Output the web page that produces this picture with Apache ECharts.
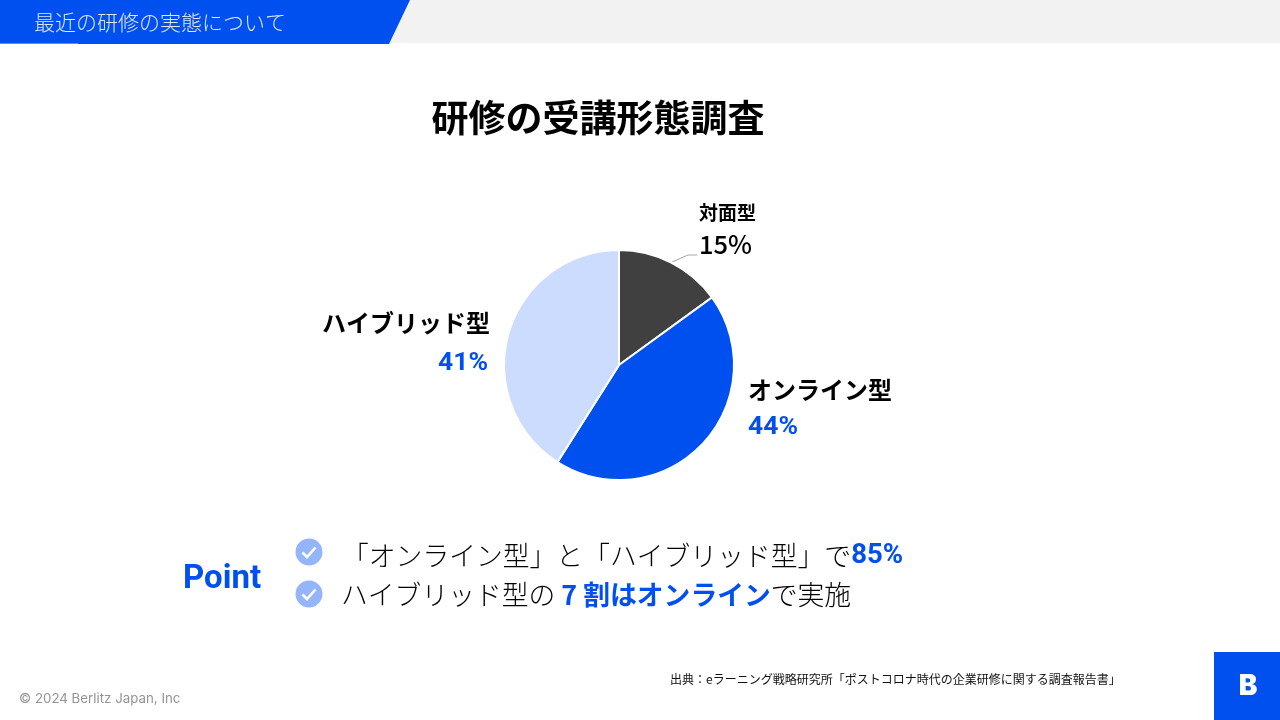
<!DOCTYPE html>
<html><head><meta charset="utf-8">
<style>html,body{margin:0;padding:0;background:#fff}#c{width:1280px;height:720px}</style>
<script src="https://cdn.jsdelivr.net/npm/echarts@6/dist/echarts.min.js"></script>
</head><body><div id="c"></div>
<script>
const categories = ['対面型','オンライン型','ハイブリッド型'];
const values = [15,44,41];
const sliceColors = ['#404040','#0050f0','#ccdcff'];
const headerText = '最近の研修の実態について';
const titleText = '研修の受講形態調査';
const sourceText = '出典：eラーニング戦略研究所「ポストコロナ時代の企業研修に関する調査報告書」';
const copyrightText = '© 2024 Berlitz Japan, Inc';

const JP = '"Noto Sans CJK JP","Noto Sans",sans-serif';
const BLUE = '#0050f0';
const labelPos = [
  {x:699,y:198,align:'left'},
  {x:748,y:372,align:'left'},
  {x:490,y:305,align:'right'}
];
const labelFormats = ['{n0|{b}}\n{p0|{c}%}','{n|{b}}\n{p|{c}%}','{n|{b}}\n{p2|{c}%}'];
function check(cx,cy){
  return [
    {type:'circle',shape:{cx:cx,cy:cy,r:13.5},style:{fill:'#94b5fa'}},
    {type:'polyline',shape:{points:[[cx-6.5,cy+0.5],[cx-2,cy+5],[cx+6.5,cy-4.5]]},style:{stroke:'#fff',lineWidth:2.6,fill:null}}
  ];
}
const pctFont = {fontFamily:'Roboto,Inter,sans-serif',fontSize:26.5,fontWeight:700,color:BLUE};
const chart = echarts.init(document.getElementById('c'),null,{renderer:'canvas'});
chart.setOption({
  animation:false,
  backgroundColor:'#fff',
  title:{text:titleText,left:593,top:94,textAlign:'center',
    textStyle:{fontFamily:JP,fontSize:37,fontWeight:700,color:'#000'}},
  series:[{
    type:'pie',center:[619,365],radius:[0,115],startAngle:90,clockwise:true,
    data:categories.map((n,i)=>({name:n,value:values[i],
      itemStyle:{color:sliceColors[i]},
      labelLine:{show:i===0},
      label:{formatter:labelFormats[i], align:labelPos[i].align}
    })),
    itemStyle:{borderColor:'#fff',borderWidth:2},
    label:{show:true,position:'outside',
      rich:{
        n0:{fontFamily:JP,fontSize:19,fontWeight:700,color:'#000',lineHeight:30},
        p0:{fontFamily:JP,fontSize:25.5,fontWeight:500,color:'#000',lineHeight:32},
        n:{fontFamily:JP,fontSize:24,fontWeight:700,color:'#000',lineHeight:36},
        p:Object.assign({lineHeight:38},pctFont),
        p2:Object.assign({lineHeight:44,padding:[0,2,0,0]},pctFont)
      }},
    labelLine:{lineStyle:{color:'#a6a6a6',width:1}},
    labelLayout:function(p){const l=labelPos[p.dataIndex];return {x:l.x,y:l.y,align:l.align,verticalAlign:'top',
      labelLinePoints: p.dataIndex===0 ? [[672,262],[688,255],[697,255]] : undefined};}
  }],
  graphic:[
    {type:'rect',shape:{x:0,y:0,width:1280,height:43},style:{fill:'#f2f2f2'},silent:true},
    {type:'polygon',shape:{points:[[0,0],[410,0],[389,44],[0,44]]},style:{fill:BLUE},silent:true},
    {type:'rect',shape:{x:0,y:43,width:78,height:1},style:{fill:'#5c8ff5'},silent:true},
    {type:'text',x:34,y:22,style:{text:headerText,fontFamily:JP,fontSize:21,fontWeight:300,fill:'#dfe8ff',verticalAlign:'middle'}},
    {type:'text',x:183,y:580,style:{text:'Point',fontFamily:'Roboto,Inter,sans-serif',fontSize:33,fontWeight:700,fill:BLUE,verticalAlign:'middle'}},
    ...check(309,552),...check(309,594),
    {type:'text',x:342,y:556,style:{
      text:'{a|「オンライン型」と「ハイブリッド型」で}{b|85%}',verticalAlign:'middle',
      rich:{a:{fontFamily:JP,fontSize:26.8,fontWeight:300,fill:'#000'},b:{fontFamily:'Roboto,Inter,sans-serif',fontSize:27.5,fontWeight:700,fill:BLUE}}}},
    {type:'text',x:341,y:595,style:{
      text:'{a|ハイブリッド型の }{b|7 割はオンライン}{a|で実施}',verticalAlign:'middle',
      rich:{a:{fontFamily:JP,fontSize:26.8,fontWeight:300,fill:'#000'},b:{fontFamily:JP,fontSize:26.8,fontWeight:700,fill:BLUE}}}},
    {type:'text',x:670,y:679,style:{text:sourceText,fontFamily:JP,fontSize:12,fill:'#111',verticalAlign:'middle'}},
    {type:'text',x:19,y:699,style:{text:copyrightText,fontFamily:'Inter,Roboto,sans-serif',fontSize:13.3,fill:'#949494',verticalAlign:'middle'}},
    {type:'rect',shape:{x:1214,y:652,width:66,height:68},style:{fill:BLUE},silent:true},
    {type:'text',x:1248,y:687,style:{text:'B',fontFamily:'Inter,Roboto,sans-serif',fontSize:28,fontWeight:900,fill:'#fff',align:'center',verticalAlign:'middle'}}
  ]
});
</script></body></html>
